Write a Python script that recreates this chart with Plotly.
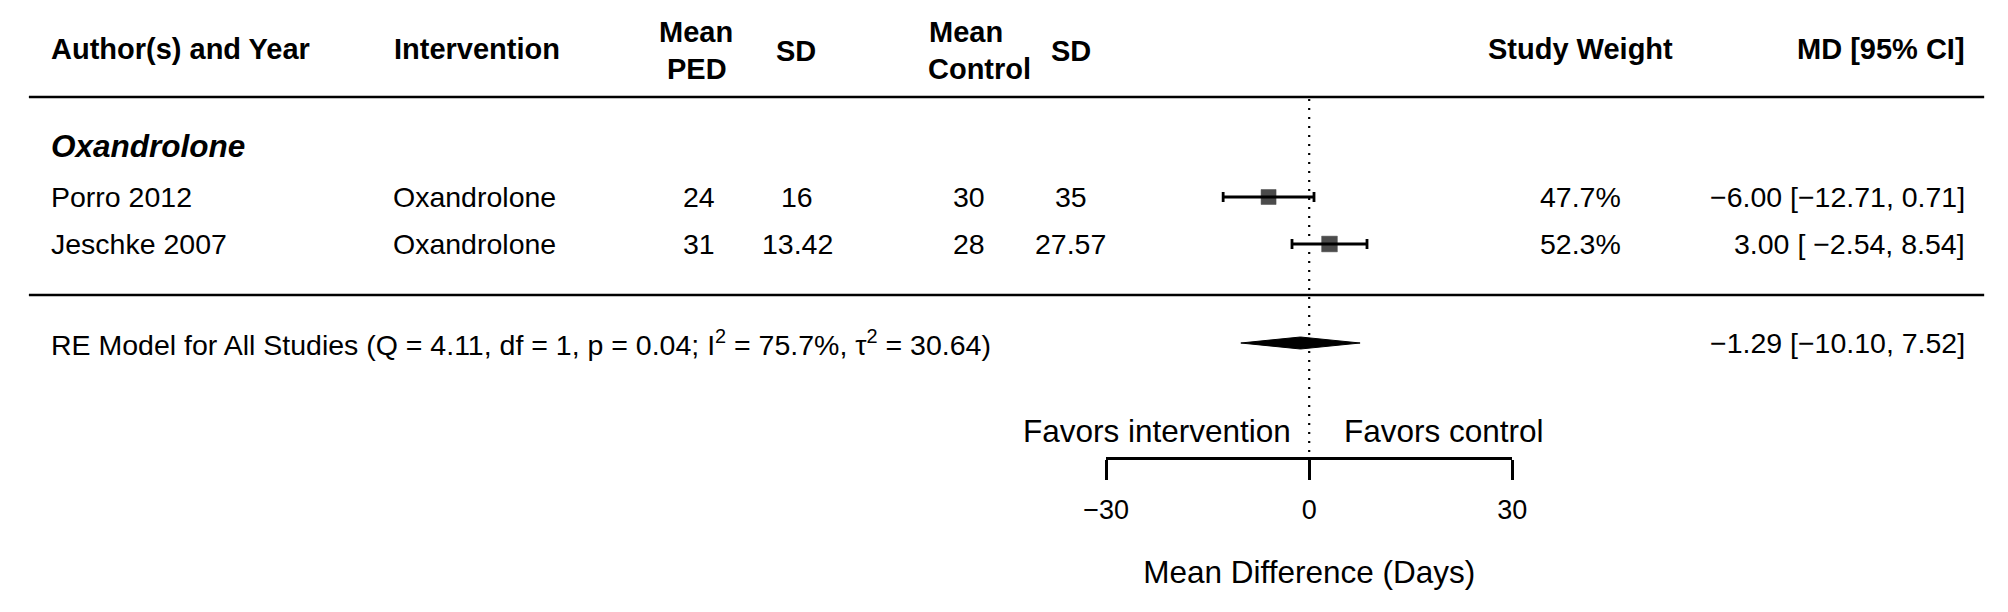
import plotly.graph_objects as go

# ---------------- data ----------------
studies = ["Porro 2012", "Jeschke 2007"]
interventions = ["Oxandrolone", "Oxandrolone"]
mean_ped = ["24", "31"]
sd_ped = ["16", "13.42"]
mean_ctrl = ["30", "28"]
sd_ctrl = ["35", "27.57"]
md = [-6.00, 3.00]
ci_lo = [-12.71, -2.54]
ci_hi = [0.71, 8.54]
weights = [47.7, 52.3]
md_labels = ["\u22126.00 [\u221212.71, 0.71]", "3.00 [ \u22122.54, 8.54]"]
group_label = "Oxandrolone"
pooled_md = -1.29
pooled_lo = -10.10
pooled_hi = 7.52
pooled_label = "\u22121.29 [\u221210.10, 7.52]"
re_text = ("RE Model for All Studies (Q = 4.11, df = 1, p = 0.04; "
           "I<sup>2</sup> = 75.7%, \u03c4<sup>2</sup> = 30.64)")
axis_ticks = [-30, 0, 30]
axis_title = "Mean Difference (Days)"
favors_left = "Favors intervention"
favors_right = "Favors control"

# ---------------- layout geometry ----------------
W, H = 2008, 612
X0_PX = 1311.0      # pixel of MD = 0
PX_PER = 6.9        # pixels per day
FONT = "Liberation Sans, Arial, sans-serif"
REG = 28.5
HDR = 29

row_y = [197, 244]
group_y = 146
header_y = 49
line_top_y = 97
line_bot_y = 295
pooled_y = 343
axis_y = 458
favors_y = 431

def px(xp):
    return xp / W

fig = go.Figure()

# dotted reference line at 0
fig.add_trace(go.Scatter(x=[0, 0], y=[line_top_y + 2, 452], mode="lines",
                         line=dict(color="black", width=2.2, dash="2px,7px"),
                         hoverinfo="skip", showlegend=False))

# CI lines with end caps
cap = 5
for i in range(len(studies)):
    y = row_y[i]
    fig.add_trace(go.Scatter(
        x=[ci_lo[i], ci_hi[i], None, ci_lo[i], ci_lo[i], None, ci_hi[i], ci_hi[i]],
        y=[y, y, None, y - cap, y + cap, None, y - cap, y + cap],
        mode="lines", line=dict(color="black", width=2.8),
        hoverinfo="skip", showlegend=False))

# squares (size by weight)
fig.add_trace(go.Scatter(
    x=md, y=row_y, mode="markers",
    marker=dict(symbol="square", color="black",
                size=[15 * (w / 47.7) ** 0.5 for w in weights],
                line=dict(width=0.5, color="black")),
    hoverinfo="skip", showlegend=False))

# pooled diamond
dh = 6
fig.add_trace(go.Scatter(
    x=[pooled_lo, pooled_md, pooled_hi, pooled_md, pooled_lo],
    y=[pooled_y, pooled_y - dh, pooled_y, pooled_y + dh, pooled_y],
    mode="lines", fill="toself", fillcolor="black",
    line=dict(color="black", width=1),
    hoverinfo="skip", showlegend=False))

# invisible trace to carry the bottom axis
fig.add_trace(go.Scatter(x=axis_ticks, y=[9999] * len(axis_ticks), xaxis="x2", yaxis="y",
                         mode="markers", marker=dict(opacity=0),
                         hoverinfo="skip", showlegend=False))

# horizontal rules
for yy in (line_top_y, line_bot_y):
    fig.add_shape(type="line", xref="paper", yref="y", x0=px(6), x1=px(1999),
                  y0=yy, y1=yy, line=dict(color="black", width=2.7))

ann = []
def text(x, y, s, anchor="left", size=REG, bold=False, italic=False):
    if bold:
        s = "<b>" + s + "</b>"
    if italic:
        s = "<i>" + s + "</i>"
    ann.append(dict(x=px(x), y=y, xref="paper", yref="y", text=s,
                    xanchor=anchor, yanchor="middle", showarrow=False,
                    font=dict(family=FONT, size=size, color="black")))

# headers
text(27, header_y, "Author(s) and Year", "left", HDR, bold=True)
text(376, header_y, "Intervention", "left", HDR, bold=True)
text(686, 32, "Mean", "center", HDR, bold=True)
text(687, 69, "PED", "center", HDR, bold=True)
text(788, 51, "SD", "center", HDR, bold=True)
text(961, 32, "Mean", "center", HDR, bold=True)
text(975, 69, "Control", "center", HDR, bold=True)
text(1068, 51, "SD", "center", HDR, bold=True)
text(1588, header_y, "Study Weight", "center", HDR, bold=True)
text(1981, header_y, "MD [95% CI]", "right", HDR, bold=True)

# group label
text(27, group_y, group_label, "left", 31.5, bold=True, italic=True)

# study rows
for i in range(len(studies)):
    y = row_y[i]
    text(27, y, studies[i], "left")
    text(375, y, interventions[i], "left")
    text(689, y, mean_ped[i], "center")
    text(789, y, sd_ped[i], "center")
    text(964, y, mean_ctrl[i], "center")
    text(1068, y, sd_ctrl[i], "center")
    text(1588, y, f"{weights[i]:.1f}%", "center")
    text(1981, y, md_labels[i], "right")

# pooled row
text(27, pooled_y, re_text, "left")
text(1981, pooled_y, pooled_label, "right")

# favors labels
text(1294, favors_y, favors_left, "right", 31.5)
text(1344, favors_y, favors_right, "left", 31.5)

fig.update_layout(annotations=ann)

x_lo = -X0_PX / PX_PER
x_hi = (W - X0_PX) / PX_PER
fig.update_layout(
    width=W, height=H, margin=dict(l=0, r=0, t=0, b=0),
    paper_bgcolor="white", plot_bgcolor="rgba(0,0,0,0)",
    xaxis=dict(range=[x_lo, x_hi], visible=False, fixedrange=True),
    yaxis=dict(range=[H, 0], visible=False, fixedrange=True),
    xaxis2=dict(domain=[px(X0_PX + axis_ticks[0] * PX_PER), px(X0_PX + axis_ticks[-1] * PX_PER)],
                range=[axis_ticks[0], axis_ticks[-1]], anchor="free",
                position=1 - axis_y / H, side="bottom",
                showline=True, linecolor="black", linewidth=2.5,
                ticks="outside", ticklen=20, tickwidth=2.5, tickcolor="black",
                tickvals=axis_ticks, ticktext=[str(t).replace("-", "\u2212") for t in axis_ticks],
                tickfont=dict(family=FONT, size=27, color="black"),
                ticklabelstandoff=7,
                showgrid=False, zeroline=False, fixedrange=True,
                title=dict(text=axis_title, font=dict(family=FONT, size=31.5, color="black"),
                           standoff=36)),
    showlegend=False,
)

fig.write_html("out.html", config={"displayModeBar": False},
               post_script="document.body.style.margin='0px';")
